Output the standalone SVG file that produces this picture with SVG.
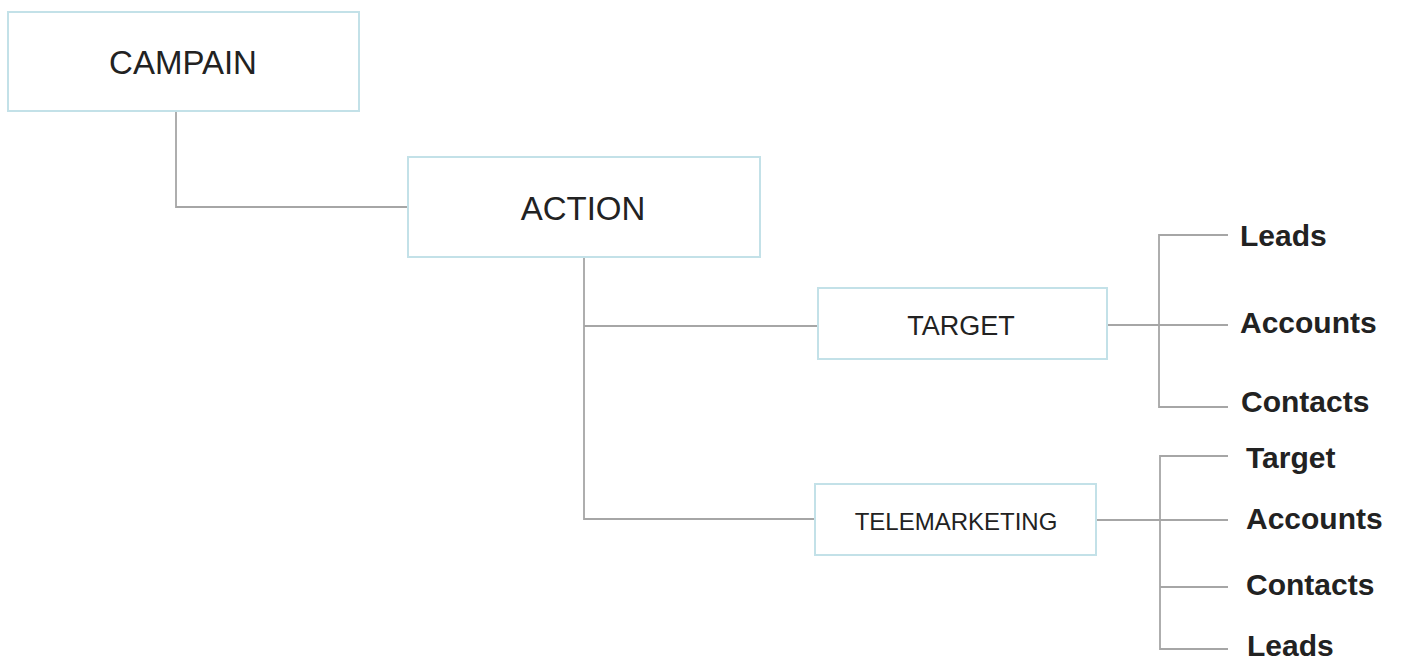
<svg xmlns="http://www.w3.org/2000/svg" width="1401" height="660" viewBox="0 0 1401 660">
<style>
.box{fill:#ffffff;stroke:#c3e1e8;stroke-width:2}
.conn{fill:none;stroke:#a6a6a6;stroke-width:1.8}
.t{font-family:"Liberation Sans",Arial,sans-serif;fill:#222222;text-anchor:middle}
.lbl{font-family:"Liberation Sans",Arial,sans-serif;font-weight:bold;fill:#222222;font-size:30px}
</style>
<rect width="1401" height="660" fill="#ffffff"/>
<g id="connectors">
<path class="conn" d="M176,111 V207 H408"/>
<path class="conn" d="M584,257 V519 H815"/>
<path class="conn" d="M584,326 H818"/>
<path class="conn" d="M1107,325 H1228"/>
<path class="conn" d="M1228,235 H1159 V407 H1228"/>
<path class="conn" d="M1096,520 H1228"/>
<path class="conn" d="M1228,456 H1160 V649 H1228"/>
<path class="conn" d="M1160,587 H1228"/>
</g>
<g id="campain">
<rect class="box" x="8" y="12" width="351" height="99"/>
<text class="t" x="183" y="74" font-size="33">CAMPAIN</text>
</g>
<g id="action">
<rect class="box" x="408" y="157" width="352" height="100"/>
<text class="t" x="583" y="220" font-size="33">ACTION</text>
</g>
<g id="target">
<rect class="box" x="818" y="288" width="289" height="71"/>
<text class="t" x="961" y="335" font-size="27">TARGET</text>
</g>
<g id="telemarketing">
<rect class="box" x="815" y="484" width="281" height="71"/>
<text class="t" x="956" y="530" font-size="24">TELEMARKETING</text>
</g>
<g id="target-leads"><text class="lbl" x="1240" y="246">Leads</text></g>
<g id="target-accounts"><text class="lbl" x="1240" y="333">Accounts</text></g>
<g id="target-contacts"><text class="lbl" x="1241" y="412">Contacts</text></g>
<g id="tele-target"><text class="lbl" x="1246" y="468">Target</text></g>
<g id="tele-accounts"><text class="lbl" x="1246" y="529">Accounts</text></g>
<g id="tele-contacts"><text class="lbl" x="1246" y="595">Contacts</text></g>
<g id="tele-leads"><text class="lbl" x="1247" y="656">Leads</text></g>
</svg>
